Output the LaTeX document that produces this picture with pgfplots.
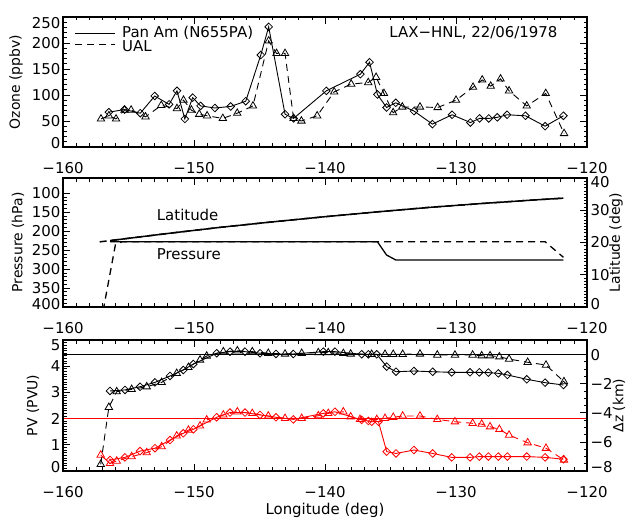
\documentclass[border=0pt]{standalone}
\usepackage{fontspec}
\setmainfont{DejaVu Sans}
\usepackage{pgfplots}
\pgfplotsset{compat=1.18}
\newcommand\fs{\fontsize{15}{18}\selectfont}
\newcommand\fl{\fontsize{14}{17}\selectfont}
% shift an edge tick label up (+) or down (-)
\newcommand\sh[2]{\raisebox{#1}[\height][0pt]{#2}}
\pgfplotsset{
  idl/.style={
    scale only axis, width=524bp,
    xmin=-160, xmax=-120,
    xtick={-160,-150,...,-120},
    xticklabels={−160,−150,−140,−130,−120},
    minor x tick num=9,
    tick align=inside,
    major tick length=7bp, minor tick length=3.5bp,
    every tick/.style={black, line width=0.7bp},
    axis line style={line width=1.1bp},
    tick label style={font=\fs},
    label style={font=\fl},
    /pgf/number format/assume math mode=true,
    xticklabel style={yshift=-12bp},
    yticklabel style={xshift=1bp},
  },
  pan/.style={black, line width=0.9bp, mark=square, mark size=2.7bp,
    mark options={rotate=45, solid, line width=0.8bp}},
  ual/.style={black, line width=0.9bp, dash pattern=on 7bp off 5bp,
    mark=triangle, mark size=4.3bp, mark options={solid, line width=0.8bp}},
  lleft/.style={ylabel style={at={(axis description cs:#1,0.5)}, anchor=center}},
}
\begin{document}
\begin{tikzpicture}
\path[use as bounding box] (0,0) rectangle (628bp,521bp);

% ozone
\begin{axis}[idl, at={(63bp,374bp)}, anchor=south west, height=130bp,
  ymin=0, ymax=250, ytick={0,50,...,250}, minor y tick num=4,
  yticklabels={\sh{4bp}{0},50,100,150,200,\sh{-6bp}{250}},
  ylabel={Ozone (ppbv)}, lleft=-0.0897]
\addplot[pan] coordinates {(-156.5,67) (-155.3,72) (-154.1,65) (-153.0,98) (-151.9,82)
  (-151.3,108) (-150.7,54) (-150.1,95) (-149.5,79) (-148.4,75) (-147.2,78) (-146.05,88)
  (-144.9,177) (-144.3,231) (-143.05,63) (-142.4,55) (-139.9,108) (-137.3,140)
  (-136.6,163) (-136.0,101) (-135.3,76) (-134.6,85) (-133.2,69) (-131.8,44) (-130.3,62)
  (-128.9,47) (-128.2,55) (-127.5,55) (-126.85,57) (-126.1,62) (-124.7,60) (-123.2,40)
  (-121.8,60)};
\addplot[ual] coordinates {(-157.1,54) (-156.5,60) (-155.95,54) (-155.3,71) (-154.8,71)
  (-153.7,58) (-152.5,80) (-151.3,74) (-150.8,90) (-150.2,71) (-149.6,63) (-149.0,60)
  (-147.8,55) (-146.7,65) (-145.5,79) (-144.3,204) (-143.7,180) (-143.05,180)
  (-142.4,55) (-141.8,50) (-140.6,60) (-139.3,106) (-138.0,121) (-136.7,124)
  (-136.1,134) (-135.5,103) (-134.8,66) (-134.1,77) (-132.75,77) (-131.4,76) (-130.0,90)
  (-128.7,115) (-128.0,129) (-127.35,117) (-126.6,131) (-125.95,108) (-124.6,79)
  (-123.15,103) (-121.75,26)};
% legend
\draw[black, line width=0.9bp] (axis description cs:0.0229,0.877) -- (axis description cs:0.0992,0.877);
\draw[black, line width=0.9bp, dash pattern=on 7bp off 5bp] (axis description cs:0.0229,0.785) -- (axis description cs:0.0992,0.785);
\node[anchor=west, font=\fs, inner sep=0pt] at (axis description cs:0.1126,0.877) {Pan Am (N655PA)};
\node[anchor=west, font=\fs, inner sep=0pt] at (axis description cs:0.1126,0.775) {UAL};
\node[anchor=east, font=\fs] at (rel axis cs:1,1) [xshift=-26bp, yshift=-16bp]
  {LAX−HNL, 22/06/1978};
\end{axis}

% pressure / latitude
\begin{axis}[idl, at={(63bp,214bp)}, anchor=south west, height=129bp,
  y dir=reverse, ymin=60, ymax=400, ytick={100,150,...,400}, minor y tick num=4,
  yticklabels={100,150,200,250,300,350,\sh{3bp}{400}},
  ytick pos=left, ylabel={Pressure (hPa)}, lleft=-0.0859]
\addplot[black, line width=1.3bp] coordinates {(-156.4,228) (-136.0,228) (-135.3,263)
  (-134.6,276) (-121.8,276)};
\addplot[black, line width=1.3bp, dash pattern=on 7bp off 5bp] coordinates
  {(-157.1,440) (-156.0,236) (-155.5,228) (-123.2,228) (-121.8,269)};
\node[anchor=west, font=\fs] at (axis cs:-153.1,157) {Latitude};
\node[anchor=west, font=\fs] at (axis cs:-153.1,260) {Pressure};
\end{axis}
\begin{axis}[idl, at={(63bp,214bp)}, anchor=south west, height=129bp,
  hide x axis, ymin=0, ymax=40, ytick={0,10,...,40}, minor y tick num=9,
  yticklabels={\sh{3bp}{0},10,20,30,\sh{-4bp}{40}},
  ytick pos=right, ylabel={Latitude (deg)}, lleft=1.0553,
  yticklabel style={xshift=-1bp}]
\addplot[black, line width=1.5bp, dash pattern=on 7bp off 5bp] coordinates
  {(-157.2,20.2) (-156.4,20.6) (-152,22.8) (-148,24.7) (-144,26.4) (-140,28.0)
  (-136,29.5) (-132,30.9) (-128,32.1) (-124,33.2) (-121.8,33.75)};
\addplot[black, line width=1.5bp] coordinates {(-156.4,20.6) (-152,22.8) (-148,24.7)
  (-144,26.4) (-140,28.0) (-136,29.5) (-132,30.9) (-128,32.1) (-124,33.2) (-121.8,33.75)};
\end{axis}

% PV / dz
\begin{axis}[idl, at={(63bp,50bp)}, anchor=south west, height=131bp,
  ymin=0, ymax=5, ytick={0,...,5}, minor y tick num=9, ytick pos=left,
  yticklabels={\sh{4bp}{0},1,2,3,4,\sh{-5bp}{5}},
  ylabel={PV (PVU)}, lleft=-0.0573,
  xlabel={Longitude (deg)},
  xlabel style={font=\fs, at={(axis description cs:0.5,0)}, yshift=-39bp, anchor=center}]
\addplot[red, line width=0.9bp] coordinates {(-160,2) (-120,2)};
\addplot[pan, red] coordinates {(-156.41,0.42) (-155.27,0.52) (-154.12,0.76)
  (-152.98,0.87) (-151.83,1.18) (-150.82,1.44) (-150.05,1.59) (-148.27,2.05)
  (-147.25,2.23) (-146.11,2.23) (-144.96,2.14) (-143.74,2.05) (-142.42,1.97)
  (-140.13,2.20) (-139.24,2.26) (-137.2,1.95) (-136.69,1.91) (-136.44,1.88)
  (-135.92,1.88) (-135.29,0.74) (-134.58,0.67) (-133.21,0.80) (-131.78,0.67)
  (-130.33,0.52) (-128.93,0.52) (-128.22,0.55) (-127.53,0.55) (-126.77,0.55)
  (-126.08,0.55) (-124.6,0.55) (-123.2,0.52) (-121.8,0.45)};
\addplot[ual, red] coordinates {(-157.12,0.61) (-156.41,0.29) (-155.9,0.38)
  (-154.76,0.55) (-153.61,0.70) (-152.47,0.93) (-151.32,1.34) (-150.43,1.56)
  (-149.54,1.72) (-149.03,1.95) (-147.76,2.14) (-146.69,2.26) (-145.55,2.20)
  (-144.33,2.10) (-143.05,2.01) (-141.78,2.01) (-140.51,2.11) (-139.75,2.20)
  (-138.6,2.26) (-138.04,2.07) (-137.33,1.97) (-136.05,1.97) (-135.42,2.01)
  (-134.79,2.05) (-134.07,2.10) (-132.75,2.10) (-131.43,1.97) (-130.08,1.88)
  (-128.73,1.82) (-128.04,1.79) (-127.4,1.69) (-126.69,1.59) (-125.95,1.37)
  (-124.53,1.08) (-123.13,0.87) (-121.76,0.42)};
\end{axis}
\begin{axis}[idl, at={(63bp,50bp)}, anchor=south west, height=131bp,
  hide x axis, ymin=-8, ymax=1, ytick={-8,-6,...,0},
  yticklabels={\sh{4bp}{−8},−6,−4,−2,0}, minor y tick num=3, ytick pos=right,
  ylabel={Δz (km)}, lleft=1.061, yticklabel style={xshift=-1bp}]
\addplot[black, line width=0.9bp] coordinates {(-160,0) (-120,0)};
\addplot[pan] coordinates {(-156.41,-2.50) (-155.27,-2.43) (-154.12,-2.21)
  (-152.98,-1.91) (-151.83,-1.47) (-150.82,-1.06) (-150.05,-0.65) (-148.27,0.09)
  (-147.25,0.20) (-146.11,0.20) (-144.96,0.09) (-143.74,0.04) (-142.42,0.04)
  (-140.13,0.20) (-139.24,0.20) (-137.2,0.02) (-136.69,0.02) (-136.05,0.02)
  (-135.29,-0.83) (-134.58,-1.18) (-133.21,-1.13) (-131.78,-1.18) (-130.33,-1.22)
  (-128.93,-1.22) (-128.22,-1.22) (-127.53,-1.24) (-126.77,-1.29) (-126.08,-1.40)
  (-124.6,-1.70) (-123.2,-1.93) (-121.8,-2.09)};
\addplot[ual] coordinates {(-157.12,-7.54) (-156.5,-3.62) (-155.9,-2.55)
  (-154.76,-2.39) (-153.61,-2.21) (-152.47,-1.91) (-151.32,-1.29) (-150.43,-0.88)
  (-149.54,-0.37) (-149.03,-0.10) (-147.76,0.20) (-146.69,0.26) (-145.55,0.20)
  (-144.33,0.09) (-143.05,0.04) (-141.78,0.09) (-140.51,0.13) (-139.75,0.13)
  (-138.6,0.08) (-138.04,0.04) (-136.44,0.02) (-135.42,0.02) (-134.79,0.02)
  (-134.07,0.02) (-132.75,0.04) (-131.43,-0.03) (-130.08,-0.03) (-128.73,-0.03)
  (-128.04,-0.08) (-127.4,-0.08) (-126.69,-0.15) (-125.95,-0.31) (-124.53,-0.53)
  (-123.13,-0.72) (-121.76,-1.86)};
\end{axis}
\end{tikzpicture}
\end{document}
